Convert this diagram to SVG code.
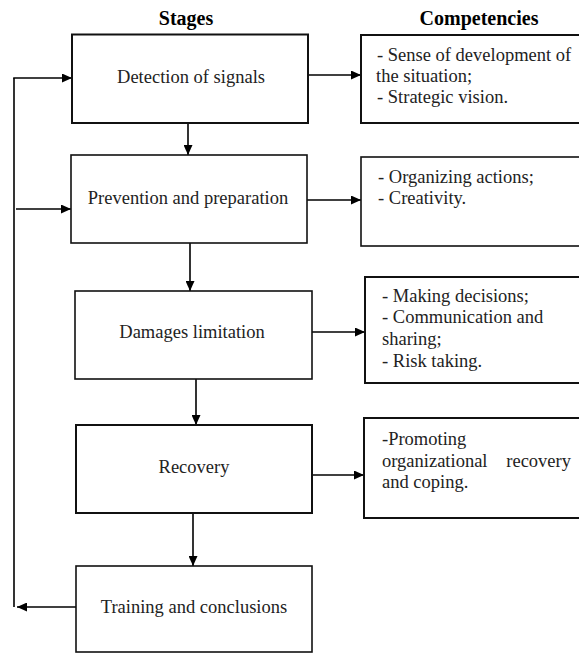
<svg xmlns="http://www.w3.org/2000/svg" width="579" height="654" viewBox="0 0 579 654">
<defs>
<marker id="ah" markerWidth="10" markerHeight="9" refX="10" refY="4.5" orient="auto" markerUnits="userSpaceOnUse">
<path d="M0,0 L10,4.5 L0,9 Z" fill="#000"/>
</marker>
<style>
.box{fill:#fff;stroke:#111;stroke-width:1.6}
.ln{fill:none;stroke:#000;stroke-width:1.6}
.la{fill:none;stroke:#000;stroke-width:1.6;marker-end:url(#ah)}
</style>
</defs>
<rect width="579" height="654" fill="#fff"/>
<g id="headers">
<text font-family="Liberation Serif, serif" font-size="20" font-weight="bold" fill="#000" text-anchor="middle" x="186" y="25">Stages</text>
<text font-family="Liberation Serif, serif" font-size="20" font-weight="bold" fill="#000" text-anchor="middle" x="479" y="25">Competencies</text>
</g>

<g id="connectors">
<line class="la" x1="188" y1="123" x2="188" y2="155"/>
<line class="la" x1="190" y1="243" x2="190" y2="291"/>
<line class="la" x1="196" y1="379" x2="196" y2="425"/>
<line class="la" x1="193" y1="513" x2="193" y2="566"/>
<line class="la" x1="308" y1="75" x2="361" y2="75"/>
<line class="la" x1="307" y1="200" x2="361" y2="200"/>
<line class="la" x1="312" y1="332" x2="365" y2="332"/>
<line class="la" x1="312" y1="475" x2="364" y2="475"/>
<line class="la" x1="76" y1="607" x2="17" y2="607"/>
<line class="ln" x1="14" y1="607" x2="14" y2="78"/>
<line class="la" x1="13.2" y1="78" x2="72" y2="78"/>
<line class="la" x1="16" y1="209" x2="71" y2="209"/>
</g>

<g id="s1"><rect class="box" x="72" y="34.5" width="236" height="88.5" style="stroke-width:2"/>
<text font-family="Liberation Serif, serif" font-size="18.5" fill="#222" text-anchor="middle" x="191" y="83">Detection of signals</text></g>
<g id="s2"><rect class="box" x="71" y="155" width="236" height="88"/>
<text font-family="Liberation Serif, serif" font-size="18.5" fill="#222" text-anchor="middle" x="188" y="204">Prevention and preparation</text></g>
<g id="s3"><rect class="box" x="75" y="291" width="237" height="88"/>
<text font-family="Liberation Serif, serif" font-size="18.5" fill="#222" text-anchor="middle" x="192" y="338">Damages limitation</text></g>
<g id="s4"><rect class="box" x="76" y="425" width="236" height="88" style="stroke-width:2"/>
<text font-family="Liberation Serif, serif" font-size="18.5" fill="#222" text-anchor="middle" x="194" y="473">Recovery</text></g>
<g id="s5"><rect class="box" x="76" y="566" width="236" height="86"/>
<text font-family="Liberation Serif, serif" font-size="18.5" fill="#222" text-anchor="middle" x="194" y="613">Training and conclusions</text></g>

<g id="c1"><rect class="box" x="361" y="35" width="240" height="88" style="stroke-width:2"/>
<text font-family="Liberation Serif, serif" font-size="18.5" fill="#222" x="377" y="61">- Sense of development of</text>
<text font-family="Liberation Serif, serif" font-size="18.5" fill="#222" x="376" y="82">the situation;</text>
<text font-family="Liberation Serif, serif" font-size="18.5" fill="#222" x="377" y="103">- Strategic vision.</text></g>
<g id="c2"><rect class="box" x="361" y="157" width="240" height="89"/>
<text font-family="Liberation Serif, serif" font-size="18.5" fill="#222" x="378" y="183">- Organizing actions;</text>
<text font-family="Liberation Serif, serif" font-size="18.5" fill="#222" x="378" y="204">- Creativity.</text></g>
<g id="c3"><rect class="box" x="365" y="277" width="240" height="106" style="stroke-width:2"/>
<text font-family="Liberation Serif, serif" font-size="18.5" fill="#222" x="382" y="302">- Making decisions;</text>
<text font-family="Liberation Serif, serif" font-size="18.5" fill="#222" x="382" y="323">- Communication and</text>
<text font-family="Liberation Serif, serif" font-size="18.5" fill="#222" x="382" y="345">sharing;</text>
<text font-family="Liberation Serif, serif" font-size="18.5" fill="#222" x="382" y="367">- Risk taking.</text></g>
<g id="c4"><rect class="box" x="364" y="418" width="240" height="100" style="stroke-width:2"/>
<text font-family="Liberation Serif, serif" font-size="18.5" fill="#222" x="382" y="445">-Promoting</text>
<text font-family="Liberation Serif, serif" font-size="18.5" fill="#222" x="382" y="467">organizational</text>
<text font-family="Liberation Serif, serif" font-size="18.5" fill="#222" x="571" y="467" text-anchor="end">recovery</text>
<text font-family="Liberation Serif, serif" font-size="18.5" fill="#222" x="382" y="488">and coping.</text></g>
</svg>
